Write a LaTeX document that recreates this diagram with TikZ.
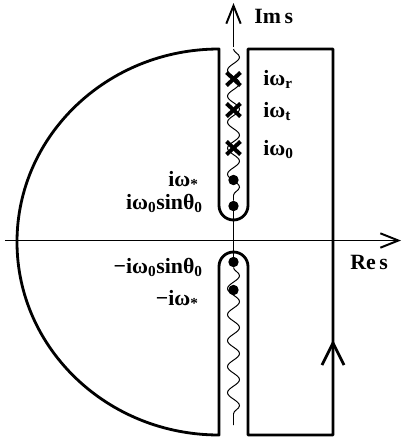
\documentclass[tikz,border=0pt]{standalone}
\usepackage{fontspec}
\setmainfont{Liberation Serif}
\usetikzlibrary{arrows.meta, decorations.pathmorphing}
\tikzset{
  contour/.style={line width=2pt, line join=round},
  axis/.style={line width=1.4pt, -{Straight Barb[length=4.5mm,width=3.6mm,line width=1.4pt]}},
  cut/.style={line width=0.7pt, decorate, decoration={snake, amplitude=0.15cm, segment length=0.65cm}},
  pole/.style={line width=2.8pt},
  zero/.style={circle, fill=black, inner sep=0pt, minimum size=0.26cm},
  lbl/.style={font=\fontsize{15.5}{19}\selectfont\bfseries, inner sep=0pt}
}

\begin{document}
\begin{tikzpicture}[x=0.025cm, y=-0.025cm]
  \useasboundingbox (0,0) rectangle (404,443);
  % axes
  \coordinate (xl) at (5,240.5);
  \coordinate (xr) at (401,240.5);
  \coordinate (yb) at (233.5,47);
  \coordinate (yt) at (233.5,3);
  \draw[axis] (xl) -- (xr);
  \draw[axis] (yb) -- (yt);
  % contour
  \draw[contour] (219,49) arc[start angle=-90, end angle=-270, x radius=202, y radius=193]
    -- (219,266.5) arc[start angle=180, end angle=360, radius=14.5]
    -- (248,435) -- (333,435) -- (333,49) -- (248,49) -- (248,205.5)
    arc[start angle=0, end angle=180, radius=14.5] -- cycle;
  % direction on the right edge
  \draw[contour] (322,365) -- (333,343) -- (344,365);
  % zeros on the imaginary axis
  \node[zero] (zs) at (233.5,180) {};
  \node[zero] (zz) at (233.5,206) {};
  \node[zero] (mz) at (233.5,262) {};
  \node[zero] (ms) at (233.5,290) {};
  % branch cuts
  \coordinate (ctop) at (233.5,49);
  \coordinate (cbot) at (233.5,425);
  \draw[cut] (ctop) -- (zz);
  \draw[line width=1.4pt] (zz) -- (mz);
  \draw[cut] (mz) -- (cbot);
  % poles
  \foreach \name/\y in {pr/79, pt/110, p0/148} {
    \coordinate (\name) at (233.5,\y);
    \draw[pole] ([shift={(-7,-6.5)}]\name) -- ([shift={(7,6.5)}]\name);
    \draw[pole] ([shift={(-7,6.5)}]\name) -- ([shift={(7,-6.5)}]\name);
  }
  % labels
  \node[lbl, anchor=base west] (ims) at (254,23) {Im\,s};
  \node[lbl, anchor=base west] (res) at (350,269) {Re\,s};
  \node[lbl, anchor=base west] (lr) at (263,85) {iω\textsubscript{r}};
  \node[lbl, anchor=base west] (lt) at (263,117) {iω\textsubscript{t}};
  \node[lbl, anchor=base west] (l0) at (263,155) {iω\textsubscript{0}};
  \node[lbl, anchor=base east] (ls) at (199,186) {iω\textsubscript{*}};
  \node[lbl, anchor=base east] (lz) at (203,209) {iω\textsubscript{0}sinθ\textsubscript{0}};
  \node[lbl, anchor=base east] (mlz) at (203,273) {−iω\textsubscript{0}sinθ\textsubscript{0}};
  \node[lbl, anchor=base east] (mls) at (199,305) {−iω\textsubscript{*}};
\end{tikzpicture}
\end{document}
